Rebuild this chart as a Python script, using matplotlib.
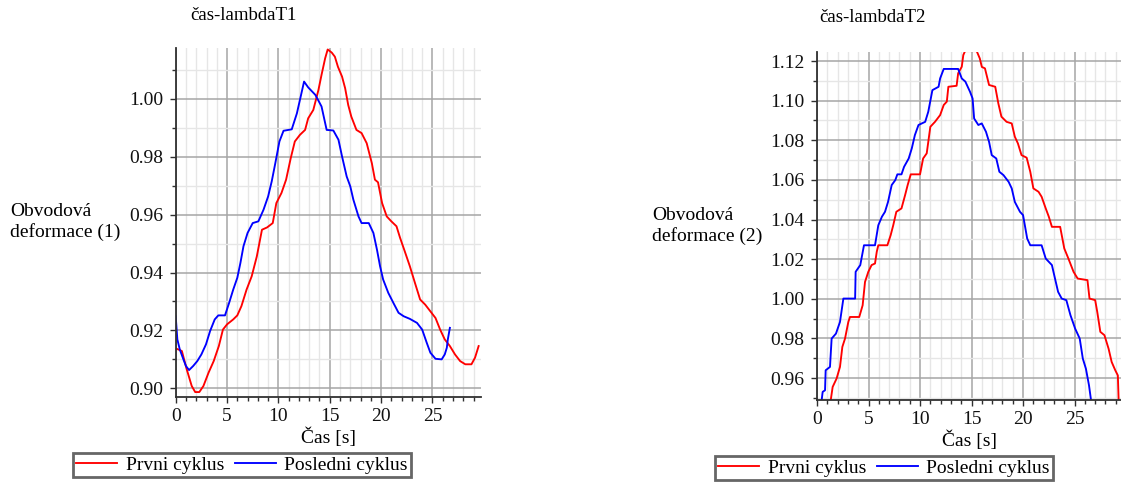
import matplotlib
matplotlib.use("Agg")
import matplotlib.pyplot as plt
from matplotlib.ticker import MultipleLocator, FormatStrFormatter
from matplotlib.lines import Line2D

plt.rcParams['font.family'] = ['Liberation Serif', 'DejaVu Serif']
plt.rcParams['font.serif'] = ['Liberation Serif', 'DejaVu Serif']

# --- Panel 1: čas-lambdaT1 -------------------------------------------------
t1_prvni = [0.0, 0.6, 1.07, 1.56, 1.9, 2.3, 2.7, 3.2, 3.7, 4.2, 4.6, 5.0, 5.6, 6.0,
            6.4, 6.9, 7.4, 7.9, 8.4, 8.9, 9.45, 9.8, 10.3, 10.75, 11.2, 11.6, 12.1,
            12.6, 12.9, 13.4, 13.9, 14.2, 14.55, 14.8, 15.2, 15.5, 15.8, 16.2, 16.5,
            16.8, 17.1, 17.6, 18.1, 18.6, 19.1, 19.4, 19.7, 20.1, 20.55, 21.0, 21.5,
            21.85, 22.3, 22.8, 23.3, 23.8, 24.3, 24.8, 25.3, 25.75, 26.2, 26.7, 27.2,
            27.7, 28.2, 28.8, 29.15, 29.5]
v1_prvni = [0.9138, 0.9129, 0.9066, 0.9008, 0.8987, 0.8987, 0.9008, 0.9054, 0.9094,
            0.9146, 0.9203, 0.9221, 0.9238, 0.9252, 0.9284, 0.9341, 0.9387, 0.9456,
            0.9548, 0.9556, 0.9571, 0.9640, 0.9675, 0.9721, 0.9795, 0.9853, 0.9876,
            0.9893, 0.9933, 0.9962, 1.0031, 1.0083, 1.0140, 1.0171, 1.0160, 1.0146,
            1.0111, 1.0077, 1.0037, 0.9979, 0.9939, 0.9893, 0.9882, 0.9847, 0.9778,
            0.9721, 0.9712, 0.9640, 0.9594, 0.9577, 0.9560, 0.9520, 0.9474, 0.9422,
            0.9364, 0.9307, 0.9289, 0.9266, 0.9243, 0.9203, 0.9169, 0.9146, 0.9117,
            0.9094, 0.9083, 0.9083, 0.9106, 0.9146]

t1_posledni = [0.0, 0.16, 0.4, 0.75, 1.0, 1.3, 1.7, 2.1, 2.5, 2.95, 3.35, 3.8, 4.15,
               4.8, 5.2, 5.6, 6.0, 6.3, 6.6, 7.0, 7.5, 8.05, 8.55, 9.0, 9.35, 9.7,
               10.1, 10.5, 11.3, 11.8, 12.1, 12.5, 12.9, 13.6, 14.2, 14.7, 15.35,
               15.85, 16.2, 16.65, 17.0, 17.3, 17.8, 18.1, 18.8, 19.25, 19.6, 19.9,
               20.2, 20.7, 21.2, 21.7, 22.2, 22.8, 23.5, 24.0, 24.45, 24.8, 25.3,
               25.9, 26.2, 26.4, 26.5, 26.7]
v1_posledni = [0.9249, 0.9169, 0.9134, 0.9100, 0.9077, 0.9063, 0.9077, 0.9094, 0.9117,
               0.9152, 0.9198, 0.9238, 0.9252, 0.9252, 0.9295, 0.9341, 0.9382, 0.9433,
               0.9491, 0.9537, 0.9571, 0.9577, 0.9617, 0.9663, 0.9715, 0.9778, 0.9853,
               0.9890, 0.9895, 0.9950, 0.9997, 1.0060, 1.0040, 1.0014, 0.9974, 0.9893,
               0.9891, 0.9859, 0.9801, 0.9732, 0.9698, 0.9652, 0.9594, 0.9571, 0.9571,
               0.9537, 0.9479, 0.9422, 0.9376, 0.9330, 0.9295, 0.9261, 0.9249, 0.9240,
               0.9226, 0.9203, 0.9157, 0.9123, 0.9102, 0.9100, 0.9117, 0.9140, 0.9169,
               0.9209]

# --- Panel 2: čas-lambdaT2 -------------------------------------------------
t2_prvni = [1.25, 1.33, 1.52, 1.9, 2.23, 2.46, 2.72, 3.04, 3.2, 4.1, 4.43, 4.66, 4.98,
            5.3, 5.63, 5.8, 5.95, 6.83, 7.15, 7.4, 7.7, 8.2, 8.55, 8.8, 9.1, 10.0,
            10.3, 10.65, 11.0, 11.45, 11.95, 12.3, 12.6, 12.75, 13.55, 13.7, 14.05,
            14.2, 14.37, 15.5, 15.8, 16.0, 16.3, 16.7, 17.3, 17.6, 17.9, 18.4, 18.9,
            19.2, 19.5, 19.85, 20.35, 20.7, 21.0, 21.5, 21.8, 22.2, 22.5, 22.8, 23.6,
            24.0, 24.4, 24.9, 25.3, 26.25, 26.45, 27.0, 27.2, 27.5, 27.9, 28.3, 28.6,
            28.95, 29.2, 29.3]
v2_prvni = [0.9450, 0.9487, 0.9555, 0.9597, 0.9656, 0.9757, 0.9799, 0.9883, 0.9908,
            0.9908, 0.9967, 1.0085, 1.0136, 1.0170, 1.0178, 1.0237, 1.0270, 1.0270,
            1.0321, 1.0371, 1.0439, 1.0456, 1.0523, 1.0574, 1.0628, 1.0628, 1.0708,
            1.0734, 1.0868, 1.0893, 1.0927, 1.0978, 1.0995, 1.1070, 1.1075, 1.1138,
            1.1171, 1.1230, 1.1250, 1.1250, 1.1213, 1.1170, 1.1163, 1.1079, 1.1070,
            1.0986, 1.0919, 1.0893, 1.0885, 1.0818, 1.0784, 1.0725, 1.0712, 1.0641,
            1.0557, 1.0540, 1.0515, 1.0456, 1.0414, 1.0363, 1.0363, 1.0254, 1.0203,
            1.0136, 1.0102, 1.0094, 1.0001, 0.9993, 0.9934, 0.9833, 0.9816, 0.9748,
            0.9681, 0.9639, 0.9613, 0.9450]

t2_posledni = [0.4, 0.45, 0.55, 0.78, 0.84, 1.26, 1.42, 1.84, 2.23, 2.56, 3.7, 3.75,
               4.2, 4.56, 5.63, 5.95, 6.3, 6.6, 6.9, 7.25, 7.6, 7.8, 8.2, 8.45, 8.9,
               9.2, 9.5, 9.85, 10.5, 10.8, 11.2, 11.8, 11.95, 12.3, 13.7, 14.05, 14.4,
               14.85, 15.1, 15.25, 15.66, 15.99, 16.4, 16.7, 16.96, 17.4, 17.7, 18.1,
               18.6, 18.9, 19.2, 19.7, 20.0, 20.4, 20.7, 21.8, 22.2, 22.8, 23.1, 23.4,
               23.75, 24.2, 24.6, 25.05, 25.5, 25.8, 26.1, 26.4, 26.6, 26.7]
v2_posledni = [0.9450, 0.9487, 0.9530, 0.9538, 0.9639, 0.9656, 0.9799, 0.9824, 0.9883,
               1.0001, 1.0001, 1.0136, 1.0170, 1.0270, 1.0270, 1.0371, 1.0414, 1.0439,
               1.0490, 1.0574, 1.0599, 1.0628, 1.0628, 1.0666, 1.0708, 1.0759, 1.0826,
               1.0877, 1.0893, 1.0944, 1.1053, 1.1070, 1.1112, 1.1160, 1.1160, 1.1112,
               1.1096, 1.1045, 1.1011, 1.0910, 1.0877, 1.0885, 1.0843, 1.0792, 1.0725,
               1.0708, 1.0641, 1.0624, 1.0590, 1.0557, 1.0489, 1.0439, 1.0422, 1.0304,
               1.0270, 1.0270, 1.0203, 1.0170, 1.0102, 1.0035, 1.0001, 0.9993, 0.9917,
               0.9850, 0.9799, 0.9698, 0.9647, 0.9563, 0.9487, 0.9450]

series_labels = ["Prvni cyklus", "Posledni cyklus"]
series_colors = ["#ff0000", "#0000ff"]

SERIF = ['Liberation Serif', 'DejaVu Serif']
W, H = 1121, 482
fig = plt.figure(figsize=(W / 100, H / 100), dpi=100)


def style_axes(ax, xmax, ylim, ymajor, yminor):
    ax.set_xlim(0, xmax)
    ax.set_ylim(*ylim)
    ax.xaxis.set_major_locator(MultipleLocator(5))
    ax.xaxis.set_minor_locator(MultipleLocator(1))
    ax.yaxis.set_major_locator(MultipleLocator(ymajor))
    ax.yaxis.set_minor_locator(MultipleLocator(yminor))
    ax.yaxis.set_major_formatter(FormatStrFormatter('%.2f'))
    ax.set_axisbelow(True)
    ax.grid(which='major', color='#a6a6a6', linewidth=1.1)
    ax.grid(which='minor', color='#e6e6e6', linewidth=1.0)
    for side in ('top', 'right'):
        ax.spines[side].set_visible(False)
    for side in ('left', 'bottom'):
        ax.spines[side].set_color('#303030')
        ax.spines[side].set_linewidth(1.3)
    ax.tick_params(which='both', direction='out', colors='#303030', labelcolor='#111111',
                   labelsize=14, width=1.0)
    ax.tick_params(which='major', length=4)
    ax.tick_params(which='minor', length=3)
    ax.tick_params(axis='x', pad=4)
    ax.tick_params(axis='y', pad=5)
    for lab in ax.get_xticklabels() + ax.get_yticklabels():
        lab.set_fontfamily(SERIF)


def panel(rect, xmax, ylim, t_a, v_a, t_b, v_b, title, title_xy, ylab, ylab_xy,
          leg_xy):
    ax = fig.add_axes(rect)
    ax.plot(t_a, v_a, color=series_colors[0], linewidth=1.35)
    ax.plot(t_b, v_b, color=series_colors[1], linewidth=1.35)
    style_axes(ax, xmax, ylim, 0.02, 0.01)
    ax.set_xlabel("Čas [s]", fontsize=14, labelpad=2, family=SERIF)
    fig.text(title_xy[0] / W, 1 - title_xy[1] / H, title, ha='center', va='center',
             fontsize=13.5, family=SERIF)
    fig.text(ylab_xy[0] / W, 1 - ylab_xy[1] / H, ylab, ha='left', va='center',
             fontsize=14, linespacing=1.25, family=SERIF)
    handles = [Line2D([], [], color=c, linewidth=1.35) for c in series_colors]
    leg = fig.legend(handles, series_labels, loc='center', ncol=2,
                     bbox_to_anchor=(leg_xy[0] / W, 1 - leg_xy[1] / H),
                     prop={'family': SERIF, 'size': 14},
                     frameon=True, fancybox=False, framealpha=1,
                     handlelength=2.1, handletextpad=0.45, columnspacing=0.55,
                     borderpad=0.15, borderaxespad=0)
    leg.get_frame().set_edgecolor('#666666')
    leg.get_frame().set_linewidth(2.0)
    return ax


# left panel: x 0 at px 175.7, 10.27 px per second; y 0.02 per 58 px
panel([175.7 / W, 1 - 396.7 / H, 305.3 / W, 348.4 / H], 29.73, (0.8971, 1.0175),
      t1_prvni, v1_prvni, t1_posledni, v1_posledni,
      "čas-lambdaT1", (243, 15), "Obvodová\ndeformace (1)", (10, 222), (242, 465))

# right panel: x 0 at px 817, 10.3 px per second; y 0.02 per 39.6 px
panel([817 / W, 1 - 400 / H, 306 / W, 348.3 / H], 29.7, (0.9489, 1.1247),
      t2_prvni, v2_prvni, t2_posledni, v2_posledni,
      "čas-lambdaT2", (872, 17), "Obvodová\ndeformace (2)", (652, 226), (884, 468))

fig.savefig("out.png", dpi=100)
